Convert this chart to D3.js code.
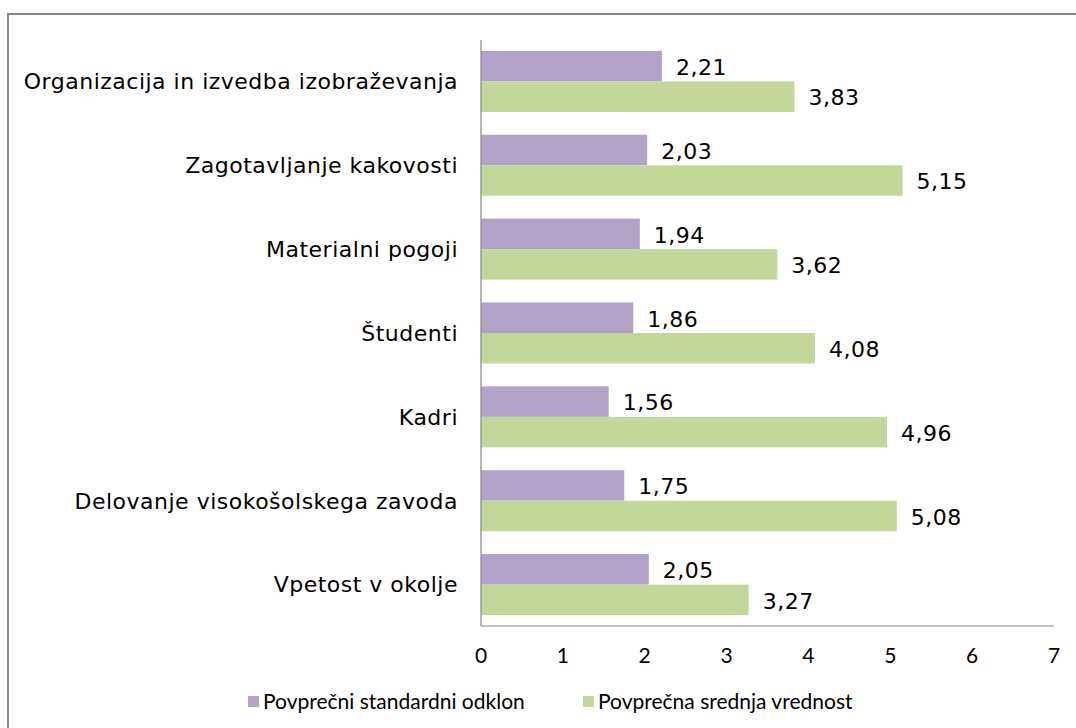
<!DOCTYPE html>
<html>
<head>
<meta charset="utf-8">
<script src="https://cdn.jsdelivr.net/npm/d3@7"></script>
<style>
  body { margin: 0; background: #fff; }
  svg { display: block; }
  .lab { font-family: "DejaVu Sans", Verdana, sans-serif; font-size: 22px; letter-spacing: 0.5px; fill: #000; }
  .small { font-family: Lato, "Open Sans", sans-serif; font-size: 21px; fill: #000; }
</style>
</head>
<body>
<svg width="1076" height="728"></svg>
<script>
const categories = [
  'Organizacija in izvedba izobraževanja',
  'Zagotavljanje kakovosti',
  'Materialni pogoji',
  'Študenti',
  'Kadri',
  'Delovanje visokošolskega zavoda',
  'Vpetost v okolje'
];
const seriesNames = ['Povprečni standardni odklon', 'Povprečna srednja vrednost'];
const stdDev = [2.21, 2.03, 1.94, 1.86, 1.56, 1.75, 2.05];
const meanVal = [3.83, 5.15, 3.62, 4.08, 4.96, 5.08, 3.27];
const xTicks = [0, 1, 2, 3, 4, 5, 6, 7];
const colors = ['#b3a2c7', '#c4d79b'];

const rows = categories.map((c, i) => ({ cat: c, vals: [stdDev[i], meanVal[i]] }));

const svg = d3.select('svg');

// outer frame
svg.append('rect')
  .attr('x', 8).attr('y', 14)
  .attr('width', 1100).attr('height', 760)
  .attr('fill', 'none')
  .attr('stroke', '#868686')
  .attr('stroke-width', 2);

const x = d3.scaleLinear().domain([0, 7]).range([481, 1054]);

const y = d3.scaleBand()
  .domain(categories)
  .range([40, 626])
  .paddingInner(0.272)
  .paddingOuter(0.13);

const ySub = d3.scaleBand()
  .domain([0, 1])
  .range([0, y.bandwidth()]);

const groups = svg.selectAll('g.cat')
  .data(rows)
  .enter()
  .append('g')
  .attr('class', 'cat')
  .attr('transform', d => `translate(0,${y(d.cat)})`);

groups.selectAll('rect')
  .data(d => d.vals)
  .enter()
  .append('rect')
  .attr('x', x(0))
  .attr('y', (d, i) => ySub(i))
  .attr('width', d => x(d) - x(0))
  .attr('height', ySub.bandwidth())
  .attr('fill', (d, i) => colors[i]);

groups.selectAll('text.val')
  .data(d => d.vals)
  .enter()
  .append('text')
  .attr('class', 'val lab')
  .attr('x', d => x(d) + 14)
  .attr('y', (d, i) => ySub(i) + ySub.bandwidth() / 2)
  .attr('dy', '0.4em')
  .text(d => d.toFixed(2).replace('.', ','));

// category labels
svg.selectAll('text.catlab')
  .data(categories)
  .enter()
  .append('text')
  .attr('class', 'catlab lab')
  .attr('x', 458)
  .attr('y', d => y(d) + y.bandwidth() / 2)
  .attr('dy', '0.36em')
  .attr('text-anchor', 'end')
  .text(d => d);

// axis lines
svg.append('line')
  .attr('x1', x(0)).attr('x2', x(0))
  .attr('y1', 40).attr('y2', 626)
  .attr('stroke', '#868686').attr('stroke-width', 1.2);
svg.append('line')
  .attr('x1', x(0)).attr('x2', x(7))
  .attr('y1', 626).attr('y2', 626)
  .attr('stroke', '#868686').attr('stroke-width', 1.2);

// x tick labels
svg.selectAll('text.tick')
  .data(xTicks)
  .enter()
  .append('text')
  .attr('class', 'tick small')
  .attr('x', d => x(d))
  .attr('y', 656)
  .attr('dy', '0.35em')
  .attr('text-anchor', 'middle')
  .text(d => d);

// legend
const legendX = [248, 583];
const legend = svg.selectAll('g.legend')
  .data(seriesNames)
  .enter()
  .append('g')
  .attr('class', 'legend')
  .attr('transform', (d, i) => `translate(${legendX[i]},702)`);

legend.append('rect')
  .attr('x', 0).attr('y', -6)
  .attr('width', 11).attr('height', 11)
  .attr('fill', (d, i) => colors[i]);

legend.append('text')
  .attr('class', 'small')
  .attr('x', 15)
  .attr('y', 0)
  .attr('dy', '0.35em')
  .text(d => d);
</script>
</body>
</html>
